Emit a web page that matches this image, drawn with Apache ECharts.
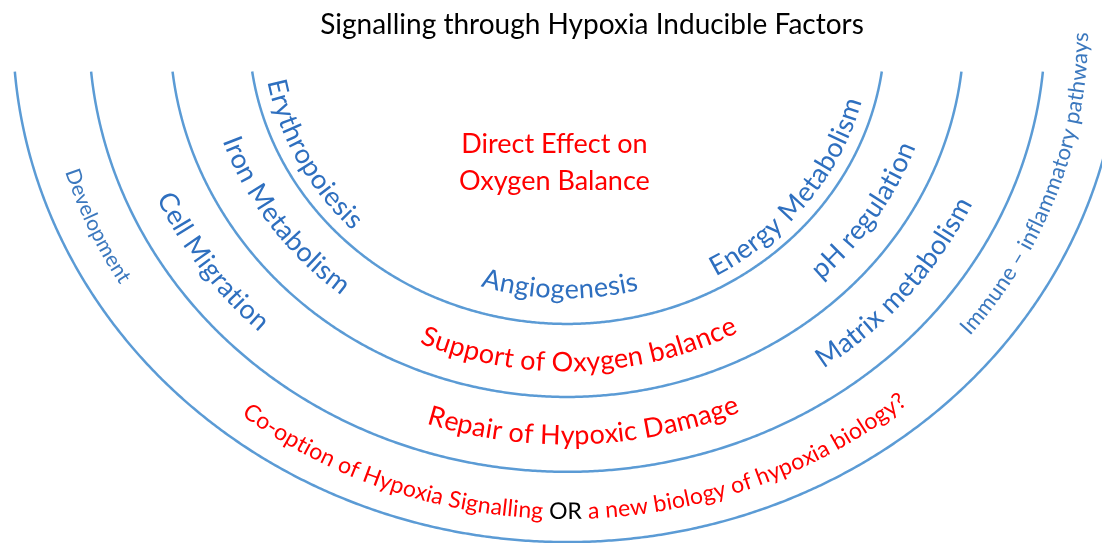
<!DOCTYPE html>
<html>
<head>
<meta charset="utf-8">
<script src="https://cdn.jsdelivr.net/npm/echarts@6/dist/echarts.min.js"></script>
<style>
html, body { margin: 0; padding: 0; background: #fff; }
#chart { width: 1102px; height: 543px; }
</style>
</head>
<body>
<div id="chart"></div>
<script>
// ring radii, diagram units (centre of the rings = 0,0)
var ringRadius = [318, 397, 478, 554];
var ringCut = -45;   // rings stop at this height (just under the title)

// labels: text, radius of the text centre line, angle (deg) of the text middle
var labelText = [
  'Direct Effect on\nOxygen Balance',
  'Erythropoiesis',
  'Angiogenesis',
  'Energy Metabolism',
  'Iron Metabolism',
  'Support of Oxygen balance',
  'pH regulation',
  'Cell Migration',
  'Repair of Hypoxic Damage',
  'Matrix metabolism',
  'Development',
  'Co-option of Hypoxia Signalling |OR| a new biology of hypoxia biology?',
  'Immune \u2013 inflammatory pathways'
];
var labelRadius = [144, 296, 281, 296, 356, 360, 362, 440, 439, 438, 518, 521, 514];
var labelAngle = [265, 208, 268.5, 322, 215.6, 272, 326.6, 215.3, 272.2, 320, 204.3, 271, 340];
var labelKind = ['head', 'blue', 'blue', 'blue', 'blue', 'red', 'blue', 'blue', 'red', 'blue', 'small', 'mixed', 'immune'];

var kindStyle = {
  head:   { color: '#FF0000', size: 27, curved: false },
  blue:   { color: '#2E6FBF', size: 27, curved: true },
  red:    { color: '#FF0000', size: 27, curved: true },
  small:  { color: '#3B78BE', size: 21, curved: true },
  immune: { color: '#3B78BE', size: 22, curved: true },
  mixed:  { color: '#FF0000', size: 23, curved: true }
};

var chart = echarts.init(document.getElementById('chart'));
var ctx = document.createElement('canvas').getContext('2d');

function pt(api, r, t) {
  return api.coord([r * Math.cos(t), r * Math.sin(t)]);
}

function renderRing(params, api) {
  var r = api.value(0);
  var a0 = Math.asin(-ringCut / r);
  var pts = [];
  for (var t = Math.PI + a0; t < 2 * Math.PI - a0; t += 0.005) {
    pts.push(pt(api, r, t));
  }
  pts.push(pt(api, r, 2 * Math.PI - a0));
  return {
    type: 'polyline',
    silent: true,
    shape: { points: pts },
    style: { fill: null, stroke: '#5B9BD5', lineWidth: 2.5 }
  };
}

function renderLabel(params, api) {
  var i = api.value(2);
  var r = api.value(0);
  var tMid = api.value(1) * Math.PI / 180;
  var st = kindStyle[labelKind[i]];
  var font = st.size + 'px Lato';

  if (!st.curved) {
    var p = pt(api, r, tMid);
    return {
      type: 'text', x: p[0], y: p[1], silent: true,
      style: { text: labelText[i], fill: st.color, font: font, align: 'center', verticalAlign: 'middle', lineHeight: 37 }
    };
  }

  // text on the ring: lay the characters along the ellipse
  var parts = labelText[i].split('|');
  var str = parts.join('');
  var cols = [];
  parts.forEach(function (s, k) {
    for (var j = 0; j < s.length; j++) cols.push(k % 2 ? '#000000' : st.color);
  });
  ctx.font = font;
  var W = ctx.measureText(str).width;

  var step = 0.002, n = 900;
  var ts = [], ss = [];
  var prev = pt(api, r, tMid - n * step), acc = 0;
  for (var k = -n; k <= n; k++) {
    var t = tMid + k * step;
    var p2 = pt(api, r, t);
    acc += Math.hypot(p2[0] - prev[0], p2[1] - prev[1]);
    prev = p2;
    ts.push(t); ss.push(acc);
  }
  var s0 = ss[n];
  function tAt(s) {
    var target = s0 + s;
    for (var m = 1; m < ss.length; m++) {
      if (ss[m] >= target) {
        var f = (target - ss[m - 1]) / ((ss[m] - ss[m - 1]) || 1);
        return ts[m - 1] + f * step;
      }
    }
    return ts[ts.length - 1];
  }

  var children = [];
  for (var j = 0; j < str.length; j++) {
    var ch = str[j];
    if (ch === ' ') continue;
    var x0 = ctx.measureText(str.slice(0, j)).width;
    var cw = ctx.measureText(ch).width;
    var tc = tAt(x0 + cw / 2 - W / 2);
    var pc = pt(api, r, tc);
    var pa = pt(api, r, tc - 0.002), pb = pt(api, r, tc + 0.002);
    children.push({
      type: 'text', x: pc[0], y: pc[1], silent: true,
      rotation: Math.atan2(-(pb[1] - pa[1]), pb[0] - pa[0]),
      style: { text: ch, fill: cols[j], font: font, align: 'center', verticalAlign: 'middle' }
    });
  }
  return { type: 'group', children: children };
}

chart.setOption({
  animation: false,
  title: {
    text: 'Signalling through Hypoxia Inducible Factors',
    left: 587, top: 6, textAlign: 'center',
    textStyle: { fontFamily: 'Lato', fontSize: 28, fontWeight: 'normal', color: '#000' }
  },
  grid: { left: 0, right: 0, top: 0, bottom: 0 },
  xAxis: { type: 'value', min: -567, max: 535, show: false },
  yAxis: { type: 'value', min: -555, max: 32.4, show: false },
  series: [
    {
      type: 'custom',
      renderItem: renderRing,
      data: ringRadius.map(function (r) { return [r, 0]; })
    },
    {
      type: 'custom',
      renderItem: renderLabel,
      data: labelText.map(function (s, i) { return [labelRadius[i], labelAngle[i], i]; })
    }
  ]
});
</script>
</body>
</html>
